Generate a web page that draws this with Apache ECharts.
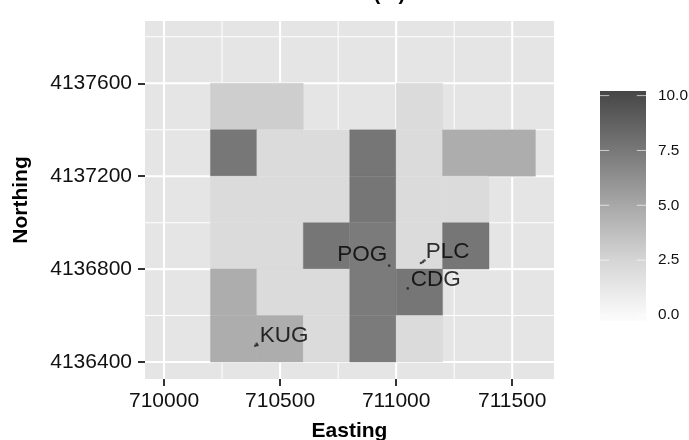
<!DOCTYPE html>
<html>
<head>
<meta charset="utf-8">
<style>html,body{margin:0;padding:0;background:#fff}#c{width:689px;height:440px}</style>
<script src="https://cdn.jsdelivr.net/npm/echarts@6/dist/echarts.min.js"></script>
</head>
<body>
<div id="c"></div>
<script>
const tileX = [710200,710400,711000,
  710200,710400,710600,710800,711000,711200,711400,
  710200,710400,710600,710800,711000,711200,
  710200,710400,710600,710800,711000,711200,
  710200,710400,710600,710800,711000,
  710200,710400,710600,710800,711000];
const tileY = [4137400,4137400,4137400,
  4137200,4137200,4137200,4137200,4137200,4137200,4137200,
  4137000,4137000,4137000,4137000,4137000,4137000,
  4136800,4136800,4136800,4136800,4136800,4136800,
  4136600,4136600,4136600,4136600,4136600,
  4136400,4136400,4136400,4136400,4136400];
const tileValue = [2.9,2.9,2.1,
  7.55,2.1,2.1,7.6,2.1,4.7,4.7,
  2.1,2.1,2.1,7.6,2.1,2.1,
  2.1,2.1,7.6,7.35,2.1,7.6,
  4.7,2.1,2.1,7.35,7.6,
  4.7,4.7,2.1,7.35,2.1];
const tileSize = 200;
const xTicks = [710000,710500,711000,711500];
const yTicks = [4136400,4136800,4137200,4137600];
const xMinor = [710250,710750,711250];
const yMinor = [4136600,4137000,4137400,4137800];
const pointX = [710393,710402,710399,710970,711050,711107,711115,711122];
const pointY = [4136470,4136472,4136478,4136815,4136717,4136826,4136831,4136837];
const stationNames = ['KUG','POG','CDG','PLC'];
const stationX = [710399,710970,711050,711115];
const stationY = [4136473,4136815,4136717,4136831];
const stationAlign = ['left','right','left','left'];
const stationOffset = [[3,-9.5],[-2,-10.5],[3,-9],[3,-10]];
const legendTicks = [0,2.5,5,7.5,10];
const rampValues = [-0.26,0,2.5,5,7.5,10,10.21];
const rampColors = ['#fbfbfb','#f9f9f9','#d5d5d5','#a8a8a8','#787878','#4a4a4a','#464646'];

const FONT = '"Liberation Sans", Arial, sans-serif';
const xMin = 709918, xMax = 711680, yMin = 4136327, yMax = 4137868;
const legMin = rampValues[0], legMax = rampValues[rampValues.length - 1];

const chart = echarts.init(document.getElementById('c'), null, {renderer: 'canvas'});

const gridLines = [];
xTicks.forEach(v => gridLines.push([v, 0, 2.1]));
xMinor.forEach(v => gridLines.push([v, 0, 1.05]));
yTicks.forEach(v => gridLines.push([v, 1, 2.1]));
yMinor.forEach(v => gridLines.push([v, 1, 1.05]));

chart.setOption({
  animation: false,
  backgroundColor: '#fff',
  textStyle: {fontFamily: FONT},
  title: {
    text: '(m)', left: 384.5, top: -21, textAlign: 'center',
    textStyle: {fontFamily: FONT, fontSize: 20.5, fontWeight: 'bold', color: '#000'}
  },
  visualMap: {
    show: false, type: 'continuous', seriesIndex: 1, dimension: 2,
    min: 0, max: 10,
    inRange: {color: rampColors.slice(1, 6)}
  },
  grid: [
    {left: 145, top: 21, width: 409, height: 358, backgroundColor: '#e5e5e5', show: true, borderWidth: 0, outerBoundsMode: 'none'},
    {left: 600, top: 91, width: 46, height: 229.7, show: false, outerBoundsMode: 'none'}
  ],
  xAxis: [
    {
      type: 'value', gridIndex: 0, min: xMin, max: xMax,
      name: 'Easting', nameLocation: 'middle', nameGap: 42,
      nameTextStyle: {fontFamily: FONT, fontSize: 21, fontWeight: 'bold', color: '#000'},
      axisLine: {show: false},
      axisTick: {show: true, customValues: xTicks, length: 7, lineStyle: {color: '#333', width: 2}},
      axisLabel: {customValues: xTicks, showMinLabel: true, showMaxLabel: true, margin: 12, fontSize: 21, color: '#111', fontFamily: FONT, formatter: v => String(v)},
      splitLine: {show: false}
    },
    {type: 'value', gridIndex: 1, min: 0, max: 1, show: false}
  ],
  yAxis: [
    {
      type: 'value', gridIndex: 0, min: yMin, max: yMax,
      name: 'Northing', nameLocation: 'middle', nameGap: 113, nameRotate: 90,
      nameTextStyle: {fontFamily: FONT, fontSize: 21, fontWeight: 'bold', color: '#000'},
      axisLine: {show: false},
      axisTick: {show: true, customValues: yTicks, length: 7, lineStyle: {color: '#333', width: 2}},
      axisLabel: {customValues: yTicks, margin: 13, fontSize: 21, color: '#111', fontFamily: FONT, formatter: v => String(v)},
      splitLine: {show: false}
    },
    {
      type: 'value', gridIndex: 1, min: legMin, max: legMax, position: 'right',
      axisLine: {show: false},
      axisTick: {show: false},
      axisLabel: {customValues: legendTicks, margin: 12, fontSize: 15.4, color: '#111', fontFamily: FONT, formatter: v => v.toFixed(1)},
      splitLine: {show: false}
    }
  ],
  series: [
    {
      name: 'grid', type: 'custom', xAxisIndex: 0, yAxisIndex: 0, silent: true, z: 1,
      clip: true,
      data: gridLines,
      encode: {x: 0},
      renderItem(params, api) {
        const v = api.value(0), isY = api.value(1) === 1, w = api.value(2);
        const a = isY ? api.coord([xMin, v]) : api.coord([v, yMin]);
        const b = isY ? api.coord([xMax, v]) : api.coord([v, yMax]);
        return {type: 'line', shape: {x1: a[0], y1: a[1], x2: b[0], y2: b[1]}, style: {stroke: '#fff', lineWidth: w}};
      }
    },
    {
      name: 'tiles', type: 'custom', xAxisIndex: 0, yAxisIndex: 0, silent: true, z: 2,
      data: tileX.map((x, i) => [x, tileY[i], tileValue[i]]),
      encode: {x: 0, y: 1},
      renderItem(params, api) {
        const a = api.coord([api.value(0), api.value(1) + tileSize]);
        const b = api.coord([api.value(0) + tileSize, api.value(1)]);
        const c = api.visual('color');
        return {type: 'rect', shape: {x: a[0], y: a[1], width: b[0] - a[0], height: b[1] - a[1]}, style: {fill: c, stroke: c, lineWidth: 0.4}};
      }
    },
    {
      name: 'points', type: 'scatter', xAxisIndex: 0, yAxisIndex: 0, silent: true, z: 3,
      symbolSize: 2.6, itemStyle: {color: '#222'},
      data: pointX.map((x, i) => [x, pointY[i]])
    },
    {
      name: 'stations', type: 'scatter', xAxisIndex: 0, yAxisIndex: 0, silent: true, z: 4,
      symbolSize: 0,
      data: stationNames.map((n, i) => ({
        value: [stationX[i], stationY[i]], name: n,
        label: {
          show: true, formatter: n, position: stationAlign[i] === 'left' ? 'right' : 'left',
          distance: 0, offset: stationOffset[i], fontSize: 22.5, color: '#000', fontFamily: FONT
        }
      }))
    },
    {
      name: 'colourbar', type: 'custom', xAxisIndex: 1, yAxisIndex: 1, silent: true, z: 2,
      data: [[0, legMin, 1, legMax]],
      encode: {x: 0, y: 1},
      renderItem(params, api) {
        const a = api.coord([0, legMax]), b = api.coord([1, legMin]);
        return {
          type: 'rect', shape: {x: a[0], y: a[1], width: b[0] - a[0], height: b[1] - a[1]},
          style: {fill: new echarts.graphic.LinearGradient(0, 0, 0, 1,
            rampValues.map((v, i) => ({offset: (legMax - v) / (legMax - legMin), color: rampColors[i]})).reverse())}
        };
      }
    },
    {
      name: 'colourbar ticks', type: 'custom', xAxisIndex: 1, yAxisIndex: 1, silent: true, z: 3,
      data: legendTicks.map(v => [v]),
      encode: {y: 0},
      renderItem(params, api) {
        const v = api.value(0);
        const mk = (f0, f1) => {
          const a = api.coord([f0, v]), b = api.coord([f1, v]);
          return {type: 'line', shape: {x1: a[0], y1: a[1], x2: b[0], y2: b[1]}, style: {stroke: '#fff', lineWidth: 0.8, opacity: 0.8}};
        };
        return {type: 'group', children: [mk(0, 0.2), mk(0.8, 1)]};
      }
    }
  ]
});
</script>
</body>
</html>
